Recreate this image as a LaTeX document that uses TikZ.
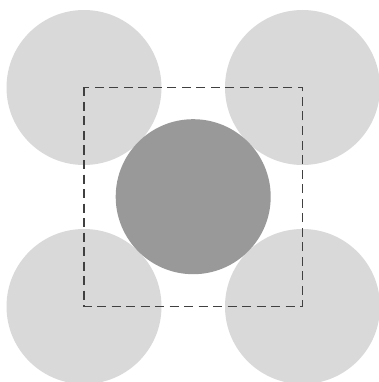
\documentclass[tikz,border=0pt]{standalone}
\begin{document}
\begin{tikzpicture}[x=1pt,y=-1pt,
  light/.style={fill=black!15,draw=none},
  dark/.style={fill=black!40,draw=none},
  sq/.style={draw=black!75,line width=1.3pt,dash pattern=on 9pt off 5.5pt}]
\useasboundingbox (0,0) rectangle (379,382);
\fill[white] (0,0) rectangle (379,382);
\fill[light] (84,87.5) circle (77.5);
\fill[light] (302.5,87.5) circle (77.5);
\fill[light] (84,306.5) circle (77.5);
\fill[light] (302.5,306.5) circle (77.5);
\fill[dark] (193.2,196.7) circle (77.5);
\draw[sq] (84,87.5) rectangle (302.5,306.5);
\end{tikzpicture}
\end{document}
